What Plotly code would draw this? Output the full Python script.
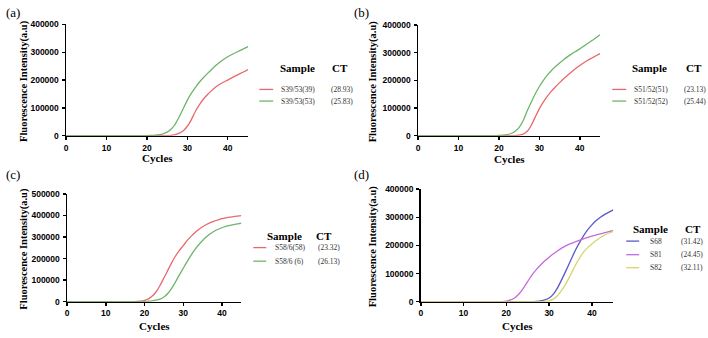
import plotly.graph_objects as go

W, H = 708, 338

cycles = list(range(46))

# Panel (a)
a_names = ["S39/53(39)", "S39/53(53)"]
a_ct = ["(28.93)", "(25.83)"]
a_s1 = [0]*26 + [1500, 4000, 9000, 18000, 34000, 58000, 88000, 112000, 132000, 148000,
                 162000, 175000, 185000, 193000, 200000, 208000, 216000, 223000, 230000, 238000]
a_s2 = [0]*20 + [500, 1000, 2000, 3500, 7000, 13000, 24000, 42000, 68000, 98000, 128000,
                 153000, 174000, 193000, 209000, 224000, 238000, 252000, 264000, 275000,
                 284000, 292000, 299000, 306000, 313000, 320000]

# Panel (b)
b_names = ["S51/52(51)", "S51/52(52)"]
b_ct = ["(23.13)", "(25.44)"]
b_s1 = [0]*25 + [2000, 6000, 16000, 38000, 68000, 98000, 122000, 143000, 161000, 177000,
                 192000, 206000, 219000, 231000, 243000, 254000, 264000, 273000, 281000,
                 289000, 297000]
b_s2 = [0]*20 + [1000, 2000, 4000, 8000, 16000, 30000, 55000, 90000, 122000, 152000, 178000,
                 200000, 220000, 236000, 250000, 263000, 275000, 286000, 296000, 305000,
                 314000, 324000, 334000, 344000, 354000, 365000]

# Panel (c)
c_names = ["S58/6(58)", "S58/6 (6)"]
c_ct = ["(23.32)", "(26.13)"]
c_s1 = [0]*18 + [1000, 2500, 6000, 13000, 26000, 46000, 75000, 110000, 145000, 180000, 212000,
                 238000, 260000, 283000, 303000, 320000, 335000, 348000, 358000, 367000,
                 374000, 380000, 385000, 389000, 392000, 395000, 397000, 399000]
c_s2 = [0]*21 + [2000, 4000, 7000, 12000, 22000, 38000, 62000, 92000, 124000, 155000, 186000,
                 215000, 241000, 264000, 284000, 301000, 315000, 327000, 336000, 343000,
                 349000, 354000, 358000, 361000, 364000]

# Panel (d)
d_names = ["S68", "S81", "S82"]
d_ct = ["(31.42)", "(24.45)", "(32.11)"]
d_s1 = [0]*27 + [1000, 2500, 6000, 13000, 27000, 50000, 80000, 112000, 145000, 178000, 207000,
                 233000, 255000, 273000, 288000, 300000, 310000, 318000, 326000]
d_s2 = [0]*20 + [2000, 6000, 14000, 28000, 48000, 72000, 95000, 114000, 130000, 145000, 158000,
                 170000, 181000, 191000, 199000, 206000, 212000, 218000, 223000, 228000,
                 233000, 237000, 241000, 245000, 249000, 252000]
d_s3 = [0]*29 + [1000, 3000, 9000, 22000, 42000, 66000, 95000, 125000, 152000, 175000, 192000,
                 205000, 217000, 228000, 237000, 244000, 250000]

x_ticks = [0, 10, 20, 30, 40]

RED = "#E8696B"
GREEN = "#6DB56A"
BLUE = "#5A5AC6"
MAGENTA = "#C46BDD"
YELLOW = "#D6D66A"

# Layout geometry (pixels)
panels = [
    dict(key="a", series=[a_s1, a_s2], names=a_names, ct=a_ct, colors=[RED, GREEN],
         x0=64.3, x1=246.7, ytop=20.0, ybot=134.7, ymax=400000,
         ytitle_x=22, cycles_y=158, label=(2, 8),
         leg=dict(head_y=65, sample_cx=296.5, ct_cx=339, sw0=258, sw1=272, rows=[87, 99],
                  name_x=278, ctv_x=328)),
    dict(key="b", series=[b_s1, b_s2], names=b_names, ct=b_ct, colors=[RED, GREEN],
         x0=417.3, x1=599.7, ytop=20.7, ybot=134.7, ymax=400000,
         ytitle_x=372, cycles_y=159, label=(351, 8),
         leg=dict(head_y=65, sample_cx=649.5, ct_cx=694, sw0=612, sw1=626, rows=[87, 99],
                  name_x=632, ctv_x=682)),
    dict(key="c", series=[c_s1, c_s2], names=c_names, ct=c_ct, colors=[RED, GREEN],
         x0=65.3, x1=240.0, ytop=194.7, ybot=305.7, ymax=500000,
         ytitle_x=22, cycles_y=331, label=(2, 175),
         leg=dict(head_y=238, sample_cx=283, ct_cx=322.5, sw0=252, sw1=265, rows=[250, 264],
                  name_x=272, ctv_x=315)),
    dict(key="d", series=[d_s1, d_s2, d_s3], names=d_names, ct=d_ct,
         colors=[BLUE, MAGENTA, YELLOW],
         x0=420.0, x1=613.0, ytop=189.7, ybot=305.7, ymax=400000,
         ytitle_x=372, cycles_y=331, label=(351, 175),
         leg=dict(head_y=230.5, sample_cx=650.5, ct_cx=692.5, sw0=626, sw1=639,
                  rows=[243.3, 257.3, 270.7], name_x=648, ctv_x=679)),
]

fig = go.Figure()
annotations = []
shapes = []

def px(x):
    return x / W

def py(y):
    return 1 - y / H

serif = "Liberation Serif"
sans = "Liberation Sans"

for i, p in enumerate(panels):
    idx = "" if i == 0 else str(i + 1)
    xa = "x" + idx
    ya = "y" + idx
    for s, c in zip(p["series"], p["colors"]):
        fig.add_trace(go.Scatter(x=cycles, y=s, mode="lines", line=dict(color=c, width=1.3, shape="spline", smoothing=0.5),
                                 xaxis=xa, yaxis=ya, showlegend=False, hoverinfo="skip"))
    yt = list(range(0, p["ymax"] + 1, 100000))
    axis_common = dict(showgrid=False, zeroline=False, showline=True, linecolor="black", linewidth=1.6,
                       ticks="outside", ticklen=3, tickwidth=1.4, tickcolor="black",
                       tickfont=dict(family=sans, size=8.5, color="black", weight="bold"))
    fig.layout["xaxis" + idx] = dict(domain=[px(p["x0"]), px(p["x1"])], range=[0, 45], anchor=ya,
                                     tickvals=x_ticks, ticklabelstandoff=0, **axis_common)
    fig.layout["yaxis" + idx] = dict(domain=[py(p["ybot"]), py(p["ytop"])], range=[0, p["ymax"]], anchor=xa,
                                     tickvals=yt, ticktext=[str(v) for v in yt], ticklabelstandoff=1,
                                     **axis_common)
    # axis titles
    annotations.append(dict(xref="paper", yref="paper", x=px(p["ytitle_x"]), y=py((p["ytop"] + p["ybot"]) / 2 + 1),
                            text="Fluorescence Intensity(a.u)", textangle=-90, showarrow=False,
                            xanchor="center", yanchor="middle",
                            font=dict(family=serif, size=10.5, color="black", weight="bold")))
    annotations.append(dict(xref="paper", yref="paper", x=px((p["x0"] + p["x1"]) / 2), y=py(p["cycles_y"]),
                            text="Cycles", showarrow=False, xanchor="center", yanchor="middle",
                            font=dict(family=serif, size=11, color="black", weight="bold")))
    # panel label
    annotations.append(dict(xref="paper", yref="paper", x=px(p["label"][0]), y=py(p["label"][1]),
                            text="(" + p["key"] + ")", showarrow=False, xanchor="left", yanchor="middle",
                            font=dict(family=serif, size=13, color="black")))
    lg = p["leg"]
    annotations.append(dict(xref="paper", yref="paper", x=px(lg["sample_cx"]), y=py(lg["head_y"]),
                            text="Sample", showarrow=False, xanchor="center", yanchor="middle",
                            font=dict(family=serif, size=11, color="black", weight="bold")))
    annotations.append(dict(xref="paper", yref="paper", x=px(lg["ct_cx"]), y=py(lg["head_y"]),
                            text="CT", showarrow=False, xanchor="center", yanchor="middle",
                            font=dict(family=serif, size=11, color="black", weight="bold")))
    for name, ct, c, ry in zip(p["names"], p["ct"], p["colors"], lg["rows"]):
        shapes.append(dict(type="line", xref="paper", yref="paper", x0=px(lg["sw0"]), x1=px(lg["sw1"]),
                           y0=py(ry), y1=py(ry), line=dict(color=c, width=1.3)))
        annotations.append(dict(xref="paper", yref="paper", x=px(lg["name_x"]), y=py(ry),
                                text=name, showarrow=False, xanchor="left", yanchor="middle",
                                font=dict(family=serif, size=7.5, color="#333333")))
        annotations.append(dict(xref="paper", yref="paper", x=px(lg["ctv_x"]), y=py(ry),
                                text=ct, showarrow=False, xanchor="left", yanchor="middle",
                                font=dict(family=serif, size=7.5, color="#333333")))

fig.update_layout(width=W, height=H, margin=dict(l=0, r=0, t=0, b=0),
                  paper_bgcolor="white", plot_bgcolor="white",
                  annotations=annotations, shapes=shapes, showlegend=False)

fig.write_html("out.html", config={"displayModeBar": False, "staticPlot": True},
               post_script="document.body.style.margin='0';document.body.style.overflow='hidden';")
